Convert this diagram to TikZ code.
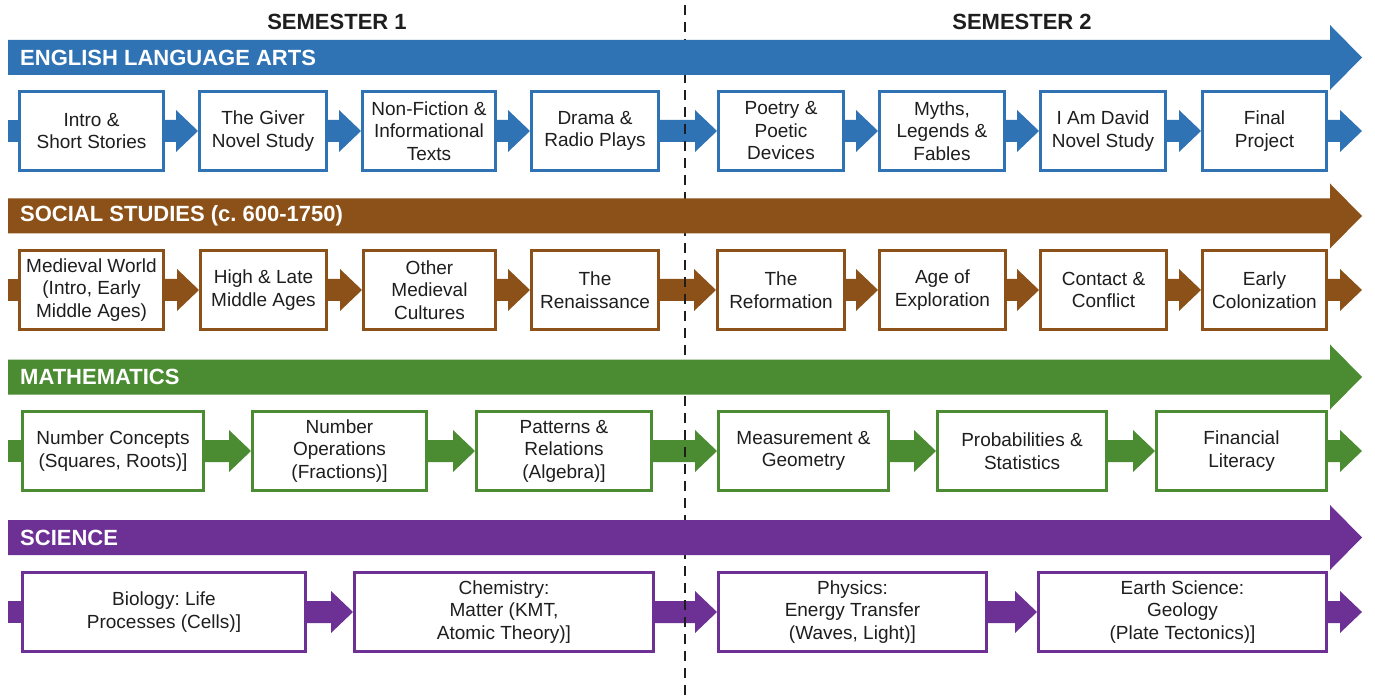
\documentclass[tikz,border=0pt]{standalone}
\usepackage{fontspec}
\setmainfont{Liberation Sans}
\usetikzlibrary{calc}
\definecolor{cela}{HTML}{2F73B5}
\definecolor{css}{HTML}{8B5119}
\definecolor{cma}{HTML}{4B8B32}
\definecolor{csc}{HTML}{6D3196}
\definecolor{txt}{HTML}{1E1E1E}
\frenchspacing
\pgfdeclarelayer{back}\pgfdeclarelayer{bg}\pgfdeclarelayer{mid}\pgfsetlayers{back,bg,mid,main}
\newcommand\conn[3]{\fill[#3] ($(#1)+(0,-11)$) -- ($(#2)+(-22,-11)$) -- ($(#2)+(-22,-21)$) -- (#2) -- ($(#2)+(-22,21)$) -- ($(#2)+(-22,11)$) -- ($(#1)+(0,11)$) -- cycle;}
\newcommand\stub[3]{\fill[#3] ($(#1)+(0,-11)$) rectangle ($(#2)+(0,11)$);}
\newcommand\banner[2]{\fill[#2] (8,{#1-17.5}) -- (1330,{#1-17.5}) -- (1330,{#1-32.5}) -- (1362,#1) -- (1330,{#1+32.5}) -- (1330,{#1+17.5}) -- (8,{#1+17.5}) -- cycle;}
\begin{document}
\begin{tikzpicture}[x=1pt,y=-1pt,
 bx/.style={draw=#1,line width=3pt,fill=white,align=center,minimum height=79pt,inner sep=2pt,text=txt,font=\fontsize{19}{22.5}\selectfont},
 bn/.style={anchor=west,text=white,font=\bfseries\fontsize{22}{26}\selectfont,inner sep=0pt},
 sem/.style={text=txt,font=\bfseries\fontsize{22}{26}\selectfont,inner sep=0pt}]
\begin{pgfonlayer}{back}
\fill[white] (0,0) rectangle (1375,700);
\end{pgfonlayer}
\useasboundingbox (0,0) rectangle (1375,700);

\node[sem] (s1) at (337,22) {SEMESTER 1};
\node[sem] (s2) at (1022,22) {SEMESTER 2};
\coordinate (dtop) at (685,5);
\coordinate (dbot) at (685,700);

% banners
\banner{57.5}{cela}
\node[bn] (bela) at (20,57.5) {ENGLISH LANGUAGE ARTS};
\banner{216}{css}
\node[bn] (bss) at (20,216) {SOCIAL STUDIES (c. 600-1750)};
\banner{377}{cma}
\node[bn] (bma) at (20,377) {MATHEMATICS};
\banner{537.5}{csc}
\node[bn] (bsc) at (20,537.5) {SCIENCE};

% ELA
\coordinate (eS) at (8,131);
\coordinate (eE) at (1362,131);
\node[bx=cela,minimum width=144pt] (e1) at (91.5,131) {Intro \&\\Short Stories};
\node[bx=cela,minimum width=127pt] (e2) at (263,131) {The Giver\\Novel Study};
\node[bx=cela,minimum width=133pt] (e3) at (429,131) {Non-Fiction \&\\Informational\\Texts};
\node[bx=cela,minimum width=127pt] (e4) at (595,131) {Drama \&\\Radio Plays};
\node[bx=cela,minimum width=125pt] (e5) at (781,131) {Poetry \&\\Poetic\\Devices};
\node[bx=cela,minimum width=125pt] (e6) at (942,131) {Myths,\\Legends \&\\Fables};
\node[bx=cela,minimum width=125pt] (e7) at (1103,131) {I Am David\\Novel Study};
\node[bx=cela,minimum width=124pt] (e8) at (1264.5,131) {Final\\Project};

% Social studies
\coordinate (sS) at (8,290);
\coordinate (sE) at (1362,290);
\node[bx=css,minimum width=144pt] (o1) at (91.5,290) {Medieval World\\(Intro, Early\\Middle Ages)};
\node[bx=css,minimum width=126pt] (o2) at (263.5,290) {High \& Late\\Middle Ages};
\node[bx=css,minimum width=132pt] (o3) at (429.5,290) {Other\\Medieval\\Cultures};
\node[bx=css,minimum width=127pt] (o4) at (595,290) {The\\Renaissance};
\node[bx=css,minimum width=127pt] (o5) at (781,290) {The\\Reformation};
\node[bx=css,minimum width=126pt] (o6) at (942.5,290) {Age of\\Exploration};
\node[bx=css,minimum width=126pt] (o7) at (1103.5,290) {Contact \&\\Conflict};
\node[bx=css,minimum width=124pt] (o8) at (1264.5,290) {Early\\Colonization};

% Math
\coordinate (mS) at (8,451);
\coordinate (mE) at (1362,451);
\node[bx=cma,minimum width=181pt] (m1) at (113,451) {Number Concepts\\(Squares, Roots)]};
\node[bx=cma,minimum width=174pt] (m2) at (339.5,451) {Number\\Operations\\(Fractions)]};
\node[bx=cma,minimum width=175pt] (m3) at (564,451) {Patterns \&\\Relations\\(Algebra)]};
\node[bx=cma,minimum width=170pt] (m4) at (803.5,451) {Measurement \&\\Geometry};
\node[bx=cma,minimum width=169pt] (m5) at (1022,451) {Probabilities \&\\Statistics};
\node[bx=cma,minimum width=170pt] (m6) at (1241.5,451) {Financial\\Literacy};

% Science
\coordinate (cS) at (8,612);
\coordinate (cE) at (1362,612);
\node[bx=csc,minimum width=283pt] (c1) at (164,612) {Biology: Life\\Processes (Cells)]};
\node[bx=csc,minimum width=299pt] (c2) at (504,612) {Chemistry:\\Matter (KMT,\\Atomic Theory)]};
\node[bx=csc,minimum width=268pt] (c3) at (852.5,612) {Physics:\\Energy Transfer\\(Waves, Light)]};
\node[bx=csc,minimum width=288pt] (c4) at (1182.5,612) {Earth Science:\\Geology\\(Plate Tectonics)]};

\begin{pgfonlayer}{bg}
\stub{eS}{e1.west}{cela}
\conn{e1.east}{e2.west}{cela}
\conn{e2.east}{e3.west}{cela}
\conn{e3.east}{e4.west}{cela}
\conn{e4.east}{e5.west}{cela}
\conn{e5.east}{e6.west}{cela}
\conn{e6.east}{e7.west}{cela}
\conn{e7.east}{e8.west}{cela}
\conn{e8.east}{eE}{cela}
\stub{sS}{o1.west}{css}
\conn{o1.east}{o2.west}{css}
\conn{o2.east}{o3.west}{css}
\conn{o3.east}{o4.west}{css}
\conn{o4.east}{o5.west}{css}
\conn{o5.east}{o6.west}{css}
\conn{o6.east}{o7.west}{css}
\conn{o7.east}{o8.west}{css}
\conn{o8.east}{sE}{css}
\stub{mS}{m1.west}{cma}
\conn{m1.east}{m2.west}{cma}
\conn{m2.east}{m3.west}{cma}
\conn{m3.east}{m4.west}{cma}
\conn{m4.east}{m5.west}{cma}
\conn{m5.east}{m6.west}{cma}
\conn{m6.east}{mE}{cma}
\stub{cS}{c1.west}{csc}
\conn{c1.east}{c2.west}{csc}
\conn{c2.east}{c3.west}{csc}
\conn{c3.east}{c4.west}{csc}
\conn{c4.east}{cE}{csc}
\end{pgfonlayer}
\begin{pgfonlayer}{mid}
\draw[txt,line width=2.4pt,dash pattern=on 10pt off 7pt] (dtop) -- (dbot);
\end{pgfonlayer}
\end{tikzpicture}
\end{document}
